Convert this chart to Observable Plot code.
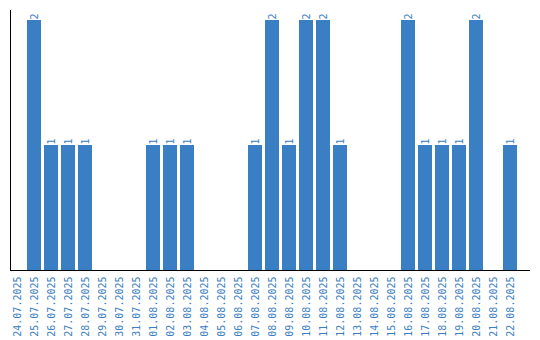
<!DOCTYPE html>
<html>
<head>
<meta charset="utf-8">
<script src="https://cdn.jsdelivr.net/npm/d3@7"></script>
<script src="https://cdn.jsdelivr.net/npm/@observablehq/plot@0.6"></script>
<style>
  html, body { margin: 0; padding: 0; background: #fff; }
</style>
</head>
<body>
<div id="chart"></div>
<script>
const dates = [
  "24.07.2025","25.07.2025","26.07.2025","27.07.2025","28.07.2025","29.07.2025",
  "30.07.2025","31.07.2025","01.08.2025","02.08.2025","03.08.2025","04.08.2025",
  "05.08.2025","06.08.2025","07.08.2025","08.08.2025","09.08.2025","10.08.2025",
  "11.08.2025","12.08.2025","13.08.2025","14.08.2025","15.08.2025","16.08.2025",
  "17.08.2025","18.08.2025","19.08.2025","20.08.2025","21.08.2025","22.08.2025"
];
const counts = [0,2,1,1,1,0,0,0,1,1,1,0,0,0,1,2,1,2,2,1,0,0,0,2,1,1,1,2,0,1];

const data = dates.map((d, i) => ({date: d, count: counts[i]}));
const blue = "#3a7ec3";
const font = "'DejaVu Sans Mono', monospace";

const chart = Plot.plot({
  width: 540,
  height: 340,
  marginTop: 10,
  marginLeft: 10,
  marginRight: 10,
  marginBottom: 70,
  style: {fontFamily: font, fontSize: "10px", background: "#fff"},
  x: {domain: dates, range: [10, 517], paddingInner: 3 / 17, paddingOuter: 0, label: null},
  y: {domain: [0, 2.08], axis: null},
  marks: [
    Plot.barY(data, {x: "date", y: "count", fill: blue}),
    Plot.text(data.filter(d => d.count > 0), {
      x: "date", y: "count", text: d => String(d.count),
      rotate: -90, textAnchor: "start", lineAnchor: "middle",
      dy: -1, fill: blue, fontSize: 10, fontFamily: font
    }),
    Plot.axisX({tickSize: 0, tickPadding: 6, tickRotate: -90, fill: blue, fontSize: 10, fontFamily: font, label: null}),
    Plot.ruleY([0], {stroke: "#000"}),
    Plot.frame({anchor: "left", stroke: "#000"})
  ]
});
document.getElementById("chart").appendChild(chart);
</script>
</body>
</html>
